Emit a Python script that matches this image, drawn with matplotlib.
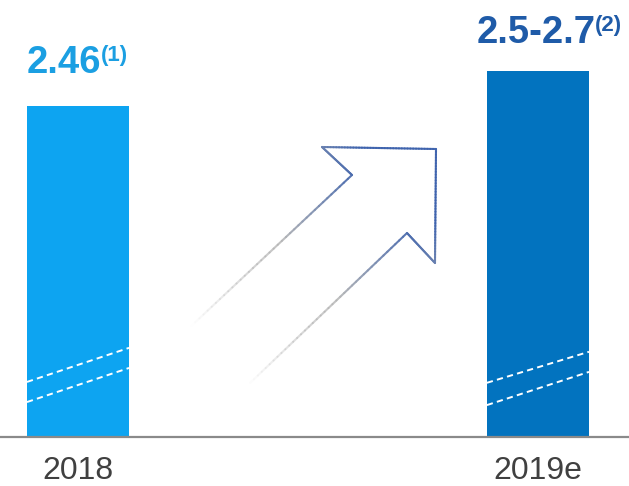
import numpy as np
import matplotlib
matplotlib.use("Agg")
import matplotlib.pyplot as plt
from matplotlib.collections import LineCollection

# ---- data ----
years = ["2018", "2019e"]
range_low = [2.46, 2.5]
range_high = [2.46, 2.7]
value_labels = ["2.46", "2.5-2.7"]
footnotes = ["(1)", "(2)"]

bar_colors = ["#0da4f1", "#0273bf"]
label_colors = ["#1b9fe2", "#1f5ba8"]

values = [(lo + hi) / 2 for lo, hi in zip(range_low, range_high)]

W, H = 629, 486
PT = 100 / 72  # pixels per point
fig = plt.figure(figsize=(W / 100, H / 100), dpi=100)
base_px = 437
ax = fig.add_axes([0, (H - base_px) / H, 1, base_px / H])

y_min, y_max = 1.136, 2.884
x = np.arange(len(years))
bar_w = 0.222
bars = ax.bar(x, values, width=bar_w, color=bar_colors, zorder=2)
ax.set_ylim(y_min, y_max)
ax.set_xlim(-0.1696, 1.198)

for s in ["top", "right", "left"]:
    ax.spines[s].set_visible(False)
ax.spines["bottom"].set_color("#8a8a8a")
ax.spines["bottom"].set_linewidth(1.6)
ax.set_yticks([])
ax.set_xticks(x)
ax.set_xticklabels(years, fontsize=23, color="#404040",
                   fontfamily="Liberation Sans")
ax.tick_params(axis="x", length=0, pad=14)

# axis-break marks across each bar (two parallel dashed strokes),
# given as fractions of the axis height at the bar's left / right edge
span = y_max - y_min
break_sets = [((0.126, 0.204), (0.080, 0.158)),
              ((0.124, 0.195), (0.073, 0.149))]
for b, strokes in zip(bars, break_sets):
    x0, x1 = b.get_x(), b.get_x() + b.get_width()
    for (ya, yb) in strokes:
        ax.plot([x0, x1], [y_min + ya * span, y_min + yb * span],
                color="white", lw=1.4, ls=(0, (3.2, 2.2)), zorder=3,
                solid_capstyle="butt")

# value labels with footnote superscripts
fig.canvas.draw()
renderer = fig.canvas.get_renderer()
x_offsets = [0, -10]      # px, from the bar's left edge
y_offsets = [33, 28]      # px, baseline above the bar top
for b, lab, note, col, dx, dy in zip(bars, value_labels, footnotes,
                                     label_colors, x_offsets, y_offsets):
    xy = (b.get_x(), b.get_height())
    t = ax.annotate(lab, xy, xytext=(dx / PT, dy / PT), textcoords="offset points",
                    ha="left", va="baseline", fontsize=27.5, fontweight="bold",
                    color=col, fontfamily="Liberation Sans")
    bb = t.get_window_extent(renderer)
    ax.annotate(note, xy, xytext=((dx + bb.width - 1) / PT, (dy + 12) / PT),
                textcoords="offset points", ha="left", va="baseline",
                fontsize=16, fontweight="bold", color=col,
                fontfamily="Liberation Sans")

# hollow growth arrow, fading towards its tail
ov = fig.add_axes([0, 0, 1, 1], zorder=5)
ov.set_xlim(0, W)
ov.set_ylim(H, 0)
ov.axis("off")
ov.patch.set_alpha(0)
outline = np.array([(187, 330), (352, 175), (322, 147), (436, 149),
                    (435, 263), (407, 233), (250, 383)], dtype=float)
segs, cols = [], []
head = np.array([436, 149.0])
tail_d = np.hypot(*(np.array([218, 356.0]) - head))
blue = np.array(matplotlib.colors.to_rgb("#3d62ad"))
grey = np.array(matplotlib.colors.to_rgb("#b5b5b5"))
for p, q in zip(outline[:-1], outline[1:]):
    n = 40
    pts = np.linspace(p, q, n + 1)
    for a, c in zip(pts[:-1], pts[1:]):
        m = (a + c) / 2
        t = np.clip(np.hypot(*(m - head)) / tail_d, 0, 1)
        # blue near the head, grey along the shaft, vanishing at the tail
        mix = np.clip((t - 0.25) / 0.35, 0, 1)
        rgb = blue * (1 - mix) + grey * mix
        alpha = np.clip(1.0 - max(0, t - 0.55) / 0.45, 0, 1) * 0.95
        segs.append([a, c])
        cols.append((*rgb, alpha))
ov.add_collection(LineCollection(segs, colors=cols, linewidths=1.5,
                                 capstyle="round"))

fig.savefig("out.png", dpi=100)
